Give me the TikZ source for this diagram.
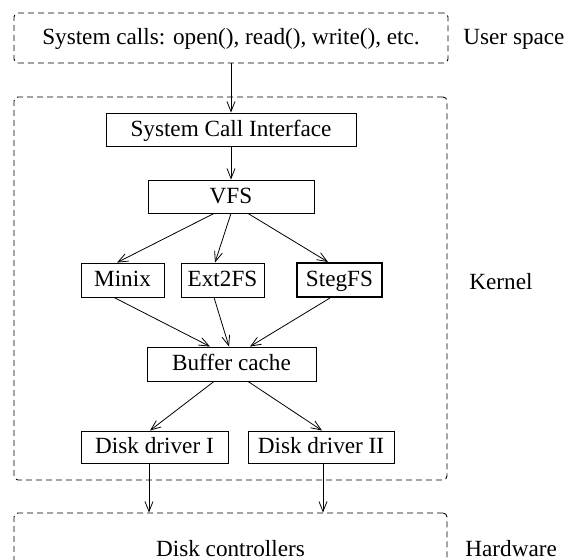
\documentclass[tikz,border=0pt]{standalone}
\usepackage{fontspec}
\setmainfont{Liberation Serif}
\usetikzlibrary{arrows.meta,calc}
\tikzset{
 region/.style={draw, dash pattern=on 3pt off 2pt, rounded corners=2pt, line width=0.45pt, inner sep=0pt, text height=8pt, text depth=1pt},
 block/.style={draw, line width=0.45pt, inner sep=0pt, text height=8pt, text depth=1pt},
 link/.style={-{Straight Barb[length=5pt,width=4pt]}, line width=0.4pt},
 side/.style={anchor=west, inner sep=0pt, text height=8pt, text depth=1pt}
}

\begin{document}
\begin{tikzpicture} [x=0.5pt,y=-0.5pt,font=\fontsize{11.6}{14}\selectfont]
\useasboundingbox (0,0) rectangle (568,560);
\node[region, minimum width=217pt, minimum height=25pt] (user) at (231,38) {System calls: open(), read(), write(), etc.};
\node[region, minimum width=216.5pt, minimum height=191.5pt] (kernel) at (230.5,288.5) {};
\node[region, minimum width=216.5pt, minimum height=37pt] (hw) at (230.5,550) {Disk controllers};
\node[side] (userlbl) at (463,38) {User space};
\node[side] (kernellbl) at (469,283) {Kernel};
\node[side] (hwlbl) at (465,550) {Hardware};

\node[block, minimum width=125pt, minimum height=16.5pt] (sci) at (231,129.5) {System Call Interface};
\node[block, minimum width=83pt, minimum height=16.5pt] (vfs) at (231,196.5) {VFS};
\node[block, minimum width=41.5pt, minimum height=17pt] (minix) at (122.5,280) {Minix};
\node[block, minimum width=41.5pt, minimum height=17pt] (ext) at (222.5,280) {Ext2FS};
\node[block, line width=1pt, minimum width=42.5pt, minimum height=17pt] (steg) at (339.5,280) {StegFS};
\node[block, minimum width=84.5pt, minimum height=17pt] (buf) at (231.5,364) {Buffer cache};
\node[block, minimum width=73.5pt, minimum height=16pt] (dd1) at (154.5,447) {Disk driver I};
\node[block, minimum width=73pt, minimum height=16pt] (dd2) at (321,447) {Disk driver II};

\draw[link] (user) -- (sci);
\draw[link] (sci) -- (vfs);
\draw[link] ($(vfs.south)+(-17,0)$) -- ($(minix.north)+(-5.5,0)$);
\draw[link] (vfs.south) -- ($(ext.north)+(-7.5,0)$);
\draw[link] ($(vfs.south)+(17,0)$) -- ($(steg.north)+(-11.5,0)$);
\draw[link] ($(minix.south)+(-8.5,0)$) -- ($(buf.north)+(-21.5,0)$);
\draw[link] ($(ext.south)+(-8.5,0)$) -- ($(buf.north)+(-2.5,0)$);
\draw[link] ($(steg.south)+(-9.5,0)$) -- ($(buf.north)+(18.5,0)$);
\draw[link] ($(buf.south)+(-17.5,0)$) -- ($(dd1.north)+(-4.5,0)$);
\draw[link] ($(buf.south)+(16.5,0)$) -- ($(dd2.north)+(1,0)$);
\coordinate (d1) at ($(dd1.south)+(-5.5,0)$);
\coordinate (d2) at ($(dd2.south)+(2,0)$);
\draw[link] (d1) -- (d1 |- hw.north);
\draw[link] (d2) -- (d2 |- hw.north);
\end{tikzpicture}
\end{document}
